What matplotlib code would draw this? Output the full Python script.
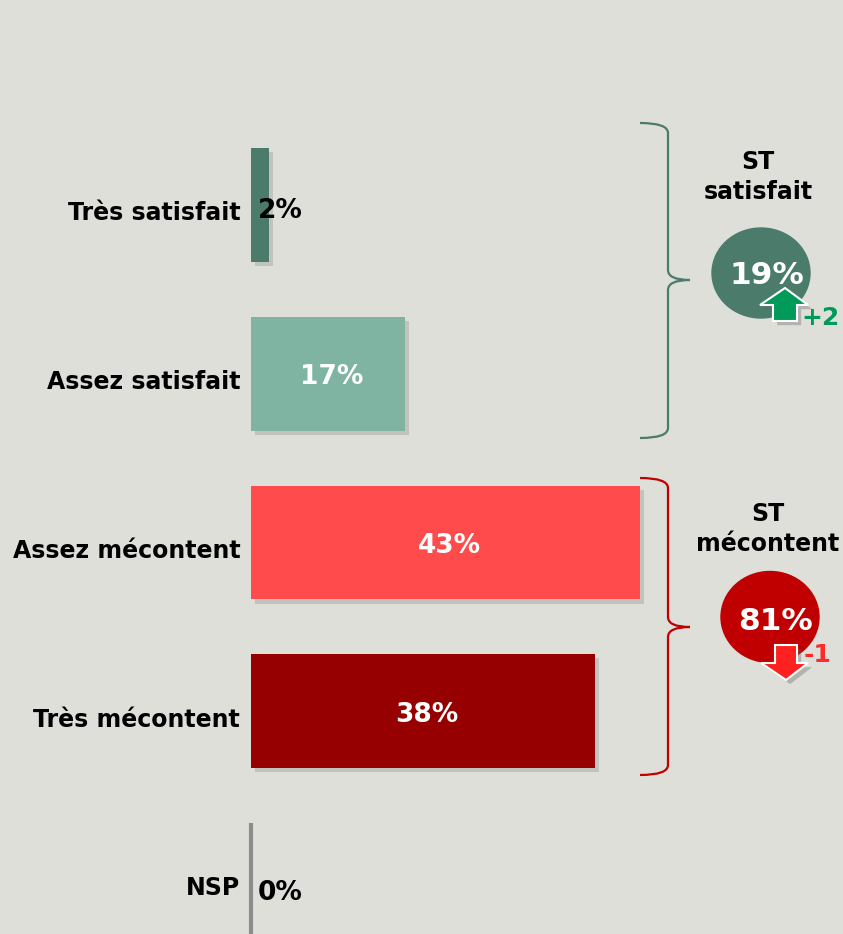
import matplotlib
matplotlib.use('Agg')

import matplotlib.pyplot as plt
import matplotlib.patheffects as pe
from matplotlib.patches import Ellipse, Polygon, PathPatch
from matplotlib.path import Path

# Data
categories = ['Très satisfait', 'Assez satisfait', 'Assez mécontent', 'Très mécontent', 'NSP']
values = [2, 17, 43, 38, 0]
colors = ['#4B7B6B', '#80B4A2', '#FF4B4B', '#960000', '#8C8C8C']

groups = ['ST\nsatisfait', 'ST\nmécontent']
group_totals = [19, 81]
group_changes = ['+2', '-1']
group_colors = ['#4B7B6B', '#C00000']
change_colors = ['#00995A', '#FF2A2A']

bg = '#DFDFD9'
plt.rcParams['font.family'] = ['DejaVu Sans']

fig = plt.figure(figsize=(8.43, 9.34), dpi=100)
fig.patch.set_facecolor(bg)

# main axes: x in percent, y in category index (pixel-matched)
ax = fig.add_axes([0, 0, 1, 1])
ax.set_facecolor(bg)
px_per_pct = 9.05
x0 = 251
step = 168.75
y_first = 205
ax.set_xlim(-x0 / px_per_pct, (843 - x0) / px_per_pct)
ax.set_ylim((934 - y_first) / step, -y_first / step)
ax.axis('off')

shadow = [pe.SimplePatchShadow(offset=(3, -3), shadow_rgbFace='#808080', alpha=0.3), pe.Normal()]
ypos = list(range(len(categories)))
bars = ax.barh(ypos, values, height=0.675, color=colors, zorder=3)
for b in bars:
    b.set_path_effects(shadow)
# NSP = 0 -> draw as a thin line
bars[-1].set_edgecolor(colors[-1])
bars[-1].set_linewidth(3)

for y, cat, v in zip(ypos, categories, values):
    ax.text(-1.2, y + 0.05, cat, ha='right', va='center', fontsize=17,
            fontweight='bold', color='black', zorder=5)
    if v < 5:
        dy = 0.08 if v == 0 else 0.035
        ax.text(0.8, y + dy, f'{v}%', ha='left', va='center', fontsize=19,
                fontweight='bold', color='black', zorder=5)
    else:
        ax.text(v / 2 + 0.4, y + 0.02, f'{v}%', ha='center', va='center', fontsize=19,
                fontweight='bold', color='white', zorder=5)

# overlay in pixel coordinates for braces and summary bubbles
ov = fig.add_axes([0, 0, 1, 1])
ov.set_xlim(0, 843)
ov.set_ylim(934, 0)
ov.axis('off')
ov.patch.set_alpha(0)


def brace(top, bot, mid, color):
    xe, xv, xt = 640, 668, 690
    r = 10
    verts = [(xe, top), (xv, top), (xv, top + r),
             (xv, mid - r),
             (xv, mid), (xt, mid),
             (xv, mid), (xv, mid + r),
             (xv, bot - r),
             (xv, bot), (xe, bot)]
    codes = [Path.MOVETO, Path.CURVE3, Path.CURVE3,
             Path.LINETO,
             Path.CURVE3, Path.CURVE3,
             Path.CURVE3, Path.CURVE3,
             Path.LINETO,
             Path.CURVE3, Path.CURVE3]
    ov.add_patch(PathPatch(Path(verts, codes), fill=False, edgecolor=color, lw=1.6))


brace(123, 438, 280, group_colors[0])
brace(478, 775, 627, group_colors[1])

arrow_fx = [pe.SimplePatchShadow(offset=(3, -3), shadow_rgbFace='#606060', alpha=0.35), pe.Normal()]

# ST satisfait
ov.text(758, 177, groups[0], ha='center', va='center', fontsize=17, fontweight='bold',
        linespacing=1.3)
ov.add_patch(Ellipse((761, 273), 98, 90, color=group_colors[0], zorder=3))
ov.text(767, 276, f'{group_totals[0]}%', ha='center', va='center', fontsize=22.5,
        fontweight='bold', color='white', zorder=4)
up = Polygon([(785, 288), (808, 305), (797, 305), (797, 321), (773, 321), (773, 305), (760, 305)],
             closed=True, facecolor='#009A5A', edgecolor='white', lw=1.5, zorder=5)
up.set_path_effects(arrow_fx)
ov.add_patch(up)
ov.text(801, 318, group_changes[0], ha='left', va='center', fontsize=18, fontweight='bold',
        color=change_colors[0], zorder=6)

# ST mecontent
ov.text(768, 529, groups[1], ha='center', va='center', fontsize=17, fontweight='bold',
        linespacing=1.3)
ov.add_patch(Ellipse((770, 617), 98, 91, color=group_colors[1], zorder=3))
ov.text(775, 621, f'{group_totals[1]}%', ha='center', va='center', fontsize=22.5,
        fontweight='bold', color='white', zorder=4)
down = Polygon([(775, 645), (797, 645), (797, 663), (808, 663), (786, 680), (761, 663), (775, 663)],
               closed=True, facecolor='#FF2020', edgecolor='white', lw=1.5, zorder=5)
down.set_path_effects(arrow_fx)
ov.add_patch(down)
ov.text(804, 655, group_changes[1], ha='left', va='center', fontsize=18, fontweight='bold',
        color=change_colors[1], zorder=6)

fig.savefig('out.png', dpi=100, facecolor=bg)
